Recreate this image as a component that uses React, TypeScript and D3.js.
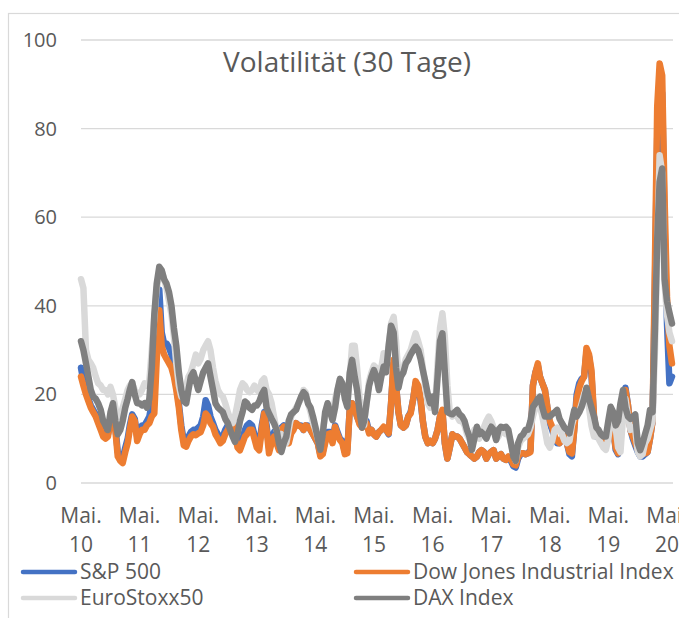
import React from 'react';
import * as d3 from 'd3';

const title = 'Volatilität (30 Tage)';
const yTicks = [0, 20, 40, 60, 80, 100];
const tickYears = [2010, 2011, 2012, 2013, 2014, 2015, 2016, 2017, 2018, 2019, 2020];
const monthLabel = 'Mai.';
const seriesNames = ['S&P 500', 'Dow Jones Industrial Index', 'EuroStoxx50', 'DAX Index'];
const seriesColors = ['#4472C4', '#ED7D31', '#D9D9D9', '#7F7F7F'];

// half-monthly samples (1st and 16th), May 2010 .. Jun 2020
const spx = [
  26, 23, 21, 19, 17.5, 16.5, 15.5, 14, 12.5, 11, 10.5, 11, 14.5, 16, 13, 7, 6, 5.5, 8, 10, 13, 15.5, 14.5, 10.5,
  12, 13, 13, 14, 15, 18, 22, 36, 43.6, 34, 31.5, 31.5, 30.5, 29, 26, 22, 18, 13, 9.5, 9, 10.5, 11.5, 12, 12,
  12.5, 13, 15, 18.7, 17.5, 15, 13.5, 12, 11, 10, 10.5, 12, 13, 13.5, 14, 12, 9, 8.5, 10, 12, 13, 13.5, 13, 11,
  9, 8.5, 13, 16, 13, 8, 10, 11.5, 10, 8.5, 12.5, 13, 11, 10, 11.5, 12.5, 13.5, 13, 13, 12, 13, 13, 12, 11,
  10, 9, 6.5, 7, 9.5, 11.5, 11.5, 9.5, 13, 11.5, 10, 9.5, 7, 7.5, 16.5, 18, 17, 15, 13.5, 13, 13.5, 14, 11.5, 12,
  11, 10.5, 11.5, 12, 12.5, 12, 11, 18, 27, 22, 16, 13, 12.5, 13, 15, 16, 19, 22.5, 21.5, 18.5, 14, 10.5, 9, 9.5,
  9, 10, 12, 15, 16, 9, 5.5, 8, 11, 10.5, 10.5, 10, 9, 8, 7, 6.5, 6, 5.5, 6, 7, 7.4, 7, 5.5, 6.5,
  7, 7.4, 5.5, 6, 6.5, 5.5, 5.2, 5.5, 5, 3.8, 3.5, 5.5, 6.5, 6.7, 6.5, 6.7, 7.5, 22, 25, 26.5, 24, 22.5, 21, 17,
  13.5, 12, 10, 9, 9, 10, 10.5, 9, 6.5, 6, 12.5, 20, 22.5, 23.5, 24, 29.5, 28.5, 24.5, 14.5, 10.5, 10.5, 9.5, 8.5, 9.5,
  11, 13.5, 12.5, 7.5, 6.5, 10.5, 16.5, 21.5, 17.5, 12, 10, 8.5, 7, 6, 6, 6.5, 7, 10, 14, 45, 78, 90, 88, 58,
  36, 22.5, 24,
];

const dow = [
  24, 22, 20, 18.5, 17, 16, 15, 13.5, 12, 10.5, 10, 10.5, 14, 15.5, 12, 6, 5, 4.5, 7, 9, 12, 15, 14, 9.5,
  11, 12, 12, 13, 13.5, 15, 15.7, 27.8, 39, 31, 29, 28, 27, 26, 24, 21, 17, 12, 8.5, 8.2, 9.5, 10.5, 11, 10.8,
  11.2, 11.5, 13, 15.7, 15, 13.5, 12.7, 11, 10, 9, 9.5, 11, 12, 13, 13.5, 11, 8, 7.4, 9, 10.5, 11, 12, 12, 10,
  8, 7.4, 12, 15.7, 12, 6.7, 9, 10.5, 9, 7.4, 12, 12.7, 10, 9, 11.2, 12, 13.5, 13, 12.7, 12, 13, 12.7, 12, 11,
  10, 9, 6, 6.5, 9, 11, 11.2, 9, 12.7, 11, 9.7, 9, 6.5, 6.7, 16.5, 18, 16.5, 15, 13.2, 12.5, 13, 13.5, 11.2, 12,
  11, 10.5, 11.5, 12, 12.7, 12, 11.2, 18, 27.8, 22, 16, 13, 12.5, 13, 15, 15.7, 19, 23, 22, 19, 14, 10.5, 9, 9.5,
  9, 10, 12, 15, 16.5, 9, 5.5, 8, 11, 10.5, 10.5, 10, 9, 8, 7, 6.5, 6, 5.5, 6, 7, 7.4, 7, 5.5, 6.5,
  7, 7.4, 5.5, 6, 6.5, 5.5, 5.2, 6, 5.5, 4.2, 4, 6, 6.7, 6.7, 6.5, 6.7, 7, 22, 25, 27, 24, 22.5, 21, 17.2,
  14, 12.7, 10.5, 9.5, 9, 10, 10.5, 9, 7, 6.7, 12, 19, 21.5, 23, 24, 30.5, 29, 25.5, 15, 11, 11, 10, 9, 10,
  11, 13, 12, 8, 6.7, 10, 16, 21, 17.5, 12, 10.5, 9, 7.5, 6.7, 6.5, 6.7, 7, 10, 14, 50, 85, 94.7, 92, 64,
  42, 31, 27,
];

const euroStoxx = [
  46, 44, 30, 27.8, 27, 26, 24, 22.5, 22, 21, 21, 20, 21.7, 20, 17, 14, 15, 17, 19, 21, 22, 22.5, 21, 20,
  20, 21, 22.5, 22, 23, 30, 37.5, 44, 47, 48, 46, 44, 41, 38, 33, 27, 22, 19.5, 20, 22, 24, 25, 27, 29,
  27, 28, 30, 31, 32, 30, 26, 23, 21, 20, 19.5, 18, 16, 14.5, 13.5, 15, 18, 21, 22.5, 22, 21, 20.5, 21, 22,
  21, 20.5, 23, 23.6, 21, 20, 18, 15, 12, 10.5, 11, 10, 9, 12, 15, 16, 17, 18, 19, 21, 20.5, 18, 16, 13.5,
  12, 10, 8.2, 12, 15, 17, 17, 15, 19, 21, 23, 22, 20, 18, 24, 31, 31, 26, 19, 14, 13, 18, 23, 25,
  26.5, 26, 24, 26, 29.3, 27, 31, 36, 37.5, 32, 24, 24, 26, 28, 29, 30, 32, 33.8, 32, 30, 26, 22, 18, 17,
  18, 17, 27, 35, 38.3, 33, 22, 16, 15, 16, 15, 14, 14, 13, 11, 10, 10.5, 12, 11.5, 10, 11, 12.5, 14, 15,
  14, 12.5, 10, 10.5, 12, 11.5, 11, 11, 9, 6.5, 5, 8, 9.5, 10, 10.5, 11, 12.5, 15, 17, 18, 17.5, 15, 12, 9,
  8, 9.5, 12, 12.5, 12, 11, 9.5, 9, 9.5, 13, 15, 15.5, 16, 18, 20, 20, 17, 13, 10.5, 11, 10, 9, 8, 7.5,
  10, 14, 15, 12.5, 8, 7, 15, 19, 15, 12, 12.5, 12, 7, 6, 6.5, 9, 10, 12, 14, 30, 52, 74, 70, 45,
  38, 34, 32,
];

const dax = [
  32, 30, 27, 24, 21, 19.5, 19, 18, 16.5, 14, 13, 12, 16, 18, 14, 11, 12, 14, 17, 19, 21, 22.8, 20, 18,
  18, 17.5, 18, 17, 19, 26, 38, 45, 48.8, 48, 46, 45, 43, 40, 35, 31, 25, 21, 18.5, 18, 21, 24, 25, 23,
  21, 23, 25, 26, 27, 24, 21, 18, 17, 16.5, 16, 14.5, 13.5, 12, 10.5, 9.3, 11, 14, 16, 18.4, 18, 17, 16.5, 17.5,
  17.5, 18.4, 20, 21, 17, 15.7, 14.5, 13.5, 12, 9, 7, 9, 10.5, 14, 15.5, 16, 16.5, 18, 19.5, 20.5, 20, 18, 17, 15,
  12.7, 10, 7.5, 11, 16, 18, 16, 14.2, 17, 21, 23.5, 22.5, 19, 17.2, 24.8, 27.8, 24, 21, 16, 12.5, 14, 18, 22, 24,
  25.5, 24, 21, 24, 26.3, 25, 31, 35.5, 34, 26, 21.5, 24, 25, 27, 27.8, 29, 30, 30.8, 30, 28, 25.5, 23, 20, 18,
  19.5, 16, 24, 32, 33.8, 25, 16, 15.7, 15.5, 16, 16.5, 15.5, 15, 14, 12, 10.5, 7.5, 10, 12.7, 11, 11.5, 11, 10, 11.5,
  12.7, 12, 9.7, 12, 12.7, 12.5, 12.7, 12, 9, 6, 5, 9, 10.5, 11, 12, 12, 14, 17.2, 18, 19, 19.5, 17, 15, 15,
  15, 15.5, 16, 16.5, 14.5, 13.5, 12.5, 12, 11.2, 14, 16.5, 15, 16, 17.2, 19, 21.5, 19, 17, 15, 12.5, 12, 11, 10.5, 10.5,
  14, 17.2, 16, 13, 14, 18, 21, 17, 15, 14.5, 15, 15.5, 9, 7.4, 9, 11, 13, 16.5, 16, 35, 55, 68, 71, 46,
  41, 38.5, 36,
];

const allSeries = [spx, dow, euroStoxx, dax];
const dates = spx.map((_, k) => new Date(2010, 4 + Math.floor(k / 2), k % 2 ? 16 : 1));

const W = 679;
const H = 618;
const textColor = '#595959';
const font = "'Open Sans', sans-serif";

export default function App() {
  const x = d3.scaleTime().domain([new Date(2010, 4, 1), new Date(2020, 4, 1)]).range([81, 667]);
  const y = d3.scaleLinear().domain([0, 100]).range([483, 40]);
  const line = d3
    .line<number>()
    .x((_, i) => x(dates[i]))
    .y((d) => y(d));

  const legend = [
    { i: 0, lx: 21, ly: 572 },
    { i: 1, lx: 354, ly: 572 },
    { i: 2, lx: 21, ly: 598 },
    { i: 3, lx: 354, ly: 598 },
  ];

  return (
    <svg
      width={W}
      height={H}
      style={{ position: 'absolute', left: 0, top: 0, background: '#fff' }}
      fontFamily={font}
    >
      <rect x={0} y={0} width={W} height={H} fill="#fff" />
      <rect x={8.5} y={13.5} width={W + 20} height={H + 20} fill="none" stroke="#D9D9D9" strokeWidth={1.2} />
      {yTicks.map((t) => (
        <g key={t}>
          <line x1={81} x2={673} y1={y(t)} y2={y(t)} stroke="#D9D9D9" strokeWidth={1.3} />
          <text x={57} y={y(t) + 7} textAnchor="end" fontSize={20} fill={textColor}>
            {t}
          </text>
        </g>
      ))}
      <text x={347} y={72} textAnchor="middle" fontSize={28} fill={textColor}>
        {title}
      </text>
      {allSeries.map((s, i) => (
        <path
          key={i}
          d={line(s) || ''}
          fill="none"
          stroke={seriesColors[i]}
          strokeWidth={6.5}
          strokeLinejoin="round"
          strokeLinecap="round"
        />
      ))}
      {tickYears.map((yr) => {
        const tx = x(new Date(yr, 4, 1));
        return (
          <g key={yr}>
            <text x={tx} y={523} textAnchor="middle" fontSize={21} fill={textColor}>
              {monthLabel}
            </text>
            <text x={tx} y={552} textAnchor="middle" fontSize={21} fill={textColor}>
              {String(yr % 100).padStart(2, '0')}
            </text>
          </g>
        );
      })}
      {legend.map(({ i, lx, ly }) => (
        <g key={i}>
          <line x1={lx + 2} x2={lx + 54} y1={ly} y2={ly} stroke={seriesColors[i]} strokeWidth={4.5} strokeLinecap="round" />
          <text x={lx + 59} y={ly + 6.5} fontSize={21} fill={textColor}>
            {seriesNames[i]}
          </text>
        </g>
      ))}
    </svg>
  );
}
